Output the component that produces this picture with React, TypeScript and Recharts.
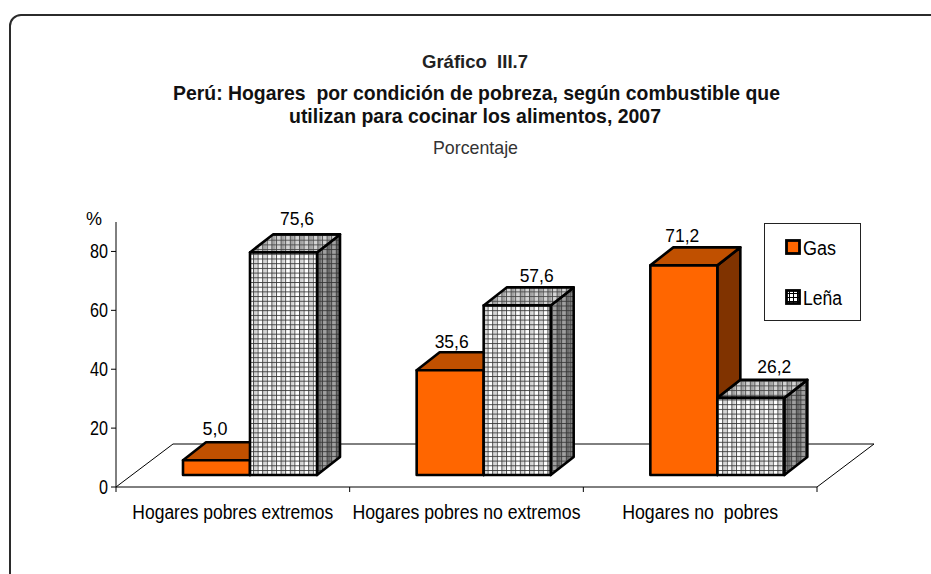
import { BarChart, Bar, XAxis, YAxis, Legend, LabelList, usePlotArea } from 'recharts';

const categories = ['Hogares pobres extremos', 'Hogares pobres no extremos', 'Hogares no  pobres'];
const gasValues = [5.0, 35.6, 71.2];
const lenaValues = [75.6, 57.6, 26.2];
const yTicks = [0, 20, 40, 60, 80];

const data = categories.map((name, i) => ({ name, gas: gasValues[i], lena: lenaValues[i] }));

const FONT = '"Liberation Sans", Arial, sans-serif';
// how far the bars sit into the floor, and how deep each bar is
const SHIFT_X = 17;
const SHIFT_Y = 12;
const DEPTH_X = 23;
const DEPTH_Y = 18;

const labelWidths: Record<string, number> = {
    'Hogares pobres extremos': 201,
    'Hogares pobres no extremos': 228,
    'Hogares no  pobres': 156,
};

// the labels were placed by hand in the original, so each one has its own nudge
const gasLabelNudge = [[-12, -3], [-9, 0], [-12, -1]];
const lenaLabelNudge = [[3, -5], [9, -1], [13, -3]];

function FitText({ x, y, width, size, anchor = 'middle', bold = false, color = '#000', children }: any) {
    return (
        <text
            x={x}
            y={y}
            textLength={width}
            lengthAdjust="spacingAndGlyphs"
            textAnchor={anchor}
            fontFamily={FONT}
            fontSize={size}
            fontWeight={bold ? 700 : 400}
            fill={color}
            style={{ whiteSpace: 'pre' }}
        >
            {children}
        </text>
    );
}

function Floor() {
    const plot = usePlotArea();
    if (!plot) return null;
    const left = plot.x;
    const right = plot.x + plot.width;
    const bottom = plot.y + plot.height;
    const dx = 57;
    const dy = 43;
    return (
        <path
            d={`M${left} ${bottom}L${left + dx} ${bottom - dy}L${right + dx} ${bottom - dy}L${right} ${bottom}`}
            fill="none"
            stroke="#000"
            strokeWidth={1}
        />
    );
}

function bar3d(front: string, top: string, side: string) {
    return (props: any) => {
        const x = props.x + SHIFT_X;
        const y = props.y - SHIFT_Y;
        const w = props.width;
        const h = props.height;
        return (
            <g stroke="#000" strokeWidth={2.6} strokeLinejoin="round">
                <path
                    d={`M${x + w} ${y}L${x + w + DEPTH_X} ${y - DEPTH_Y}L${x + w + DEPTH_X} ${y + h - DEPTH_Y}L${x + w} ${y + h}Z`}
                    fill={side}
                />
                <path
                    d={`M${x} ${y}L${x + DEPTH_X} ${y - DEPTH_Y}L${x + w + DEPTH_X} ${y - DEPTH_Y}L${x + w} ${y}Z`}
                    fill={top}
                />
                <rect x={x} y={y} width={w} height={h} fill={front} />
            </g>
        );
    };
}

function valueLabel(nudge: number[][]) {
    return (props: any) => {
        const { x, y, width, value, index } = props;
        const text = value.toFixed(1).replace('.', ',');
        return (
            <FitText
                x={x + width / 2 + SHIFT_X + DEPTH_X / 2 - 1 + nudge[index][0]}
                y={y - SHIFT_Y - DEPTH_Y - 4 + nudge[index][1]}
                width={text.length === 3 ? 25 : 34}
                size={19}
            >
                {text}
            </FitText>
        );
    };
}

function CategoryTick(props: any) {
    const { x, y, payload } = props;
    const band = 701 / 3;
    return (
        <g>
            <line x1={x + band / 2} y1={y - 8} x2={x + band / 2} y2={y - 3} stroke="#000" />
            {payload.index === 0 && <line x1={x - band / 2} y1={y - 8} x2={x - band / 2} y2={y - 3} stroke="#000" />}
            <FitText x={x} y={y + 24} width={labelWidths[payload.value]} size={19.5}>
                {payload.value}
            </FitText>
        </g>
    );
}

function ValueTick(props: any) {
    const { x, y, payload } = props;
    return (
        <FitText x={x - 1} y={y + 7} width={payload.value === 0 ? 9 : 18} size={19.5} anchor="end">
            {payload.value}
        </FitText>
    );
}

function GridPattern({ id, base, strip, line }: { id: string; base: string; strip: string; line: string }) {
    return (
        <pattern id={id} width={9.2} height={4.7} patternUnits="userSpaceOnUse">
            <rect width={9.2} height={4.7} fill={base} />
            <rect x={5.1} width={3.6} height={4.7} fill={strip} />
            <path d="M0.5 0V4.7M5.1 0V4.7M0 0.5H9.2" stroke={line} strokeWidth={0.85} fill="none" />
        </pattern>
    );
}

function Swatch({ fill }: { fill: string }) {
    return (
        <svg width={16} height={16} style={{ display: 'block' }}>
            <defs>
                <pattern id="legendGrid" width={4} height={4} patternUnits="userSpaceOnUse">
                    <rect width={4} height={4} fill="#fff" />
                    <path d="M0 0.5H4M0.5 0V4" stroke="#000" strokeWidth={1} />
                </pattern>
            </defs>
            <rect x={1.5} y={1.5} width={13} height={13} fill={fill} stroke="#000" strokeWidth={2.8} />
        </svg>
    );
}

function LegendBox() {
    const rows = [
        { label: 'Gas', fill: '#ff6600', top: 15, width: 33 },
        { label: 'Leña', fill: 'url(#legendGrid)', top: 65, width: 39 },
    ];
    return (
        <div style={{ position: 'relative', width: 97, height: 98, border: '1px solid #222', background: '#fff', boxSizing: 'border-box' }}>
            {rows.map((r) => (
                <div key={r.label} style={{ position: 'absolute', left: 20, top: r.top }}>
                    <Swatch fill={r.fill} />
                    <svg width={50} height={26} style={{ position: 'absolute', left: 18, top: -3 }}>
                        <FitText x={0} y={19} width={r.width} size={19.5} anchor="start">
                            {r.label}
                        </FitText>
                    </svg>
                </div>
            ))}
        </div>
    );
}

export default function App() {
    return (
        <div style={{ position: 'absolute', left: 0, top: 0, width: 931, height: 574, overflow: 'hidden', background: '#fff' }}>
            {/* frame runs off the right and bottom of the picture */}
            <div
                style={{
                    position: 'absolute',
                    left: 9,
                    top: 14,
                    width: 1000,
                    height: 572,
                    border: '2.5px solid #2b2b2b',
                    borderRadius: 12,
                    boxSizing: 'border-box',
                }}
            />
            <svg width={931} height={574} style={{ position: 'absolute', left: 0, top: 0 }}>
                <FitText x={475} y={68} width={106} size={18.5} bold color="#222">Gráfico  III.7</FitText>
                <FitText x={476.5} y={100} width={607} size={20.5} bold color="#111">Perú: Hogares  por condición de pobreza, según combustible que</FitText>
                <FitText x={475} y={123} width={372} size={20.5} bold color="#111">utilizan para cocinar los alimentos, 2007</FitText>
                <FitText x={475.5} y={154} width={85} size={18.5} color="#333">Porcentaje</FitText>
                <FitText x={94} y={225} width={16} size={18.5}>%</FitText>
            </svg>
            <div style={{ position: 'absolute', left: 0, top: 0 }}>
                {/* bottom margin is negative because the Legend reserves its own height there */}
                <BarChart
                    width={931}
                    height={574}
                    data={data}
                    margin={{ left: 0, right: 114, top: 222, bottom: -41 }}
                    barSize={67}
                    barGap={0}
                >
                    <defs>
                        <GridPattern id="gridFront" base="#fff" strip="#d4d4d4" line="#333" />
                        <GridPattern id="gridTop" base="#d4d4d4" strip="#a4a4a4" line="#444" />
                        <GridPattern id="gridSide" base="#a0a0a0" strip="#6c6c6c" line="#333" />
                    </defs>
                    <Floor />
                    <XAxis
                        dataKey="name"
                        height={30}
                        axisLine={{ stroke: '#000' }}
                        tickLine={false}
                        tick={<CategoryTick />}
                        interval={0}
                    />
                    <YAxis
                        domain={[0, 90]}
                        ticks={yTicks}
                        width={116}
                        axisLine={{ stroke: '#000' }}
                        tickLine={{ stroke: '#000' }}
                        tickSize={5}
                        tick={<ValueTick />}
                    />
                    <Legend
                        content={<LegendBox />}
                        wrapperStyle={{ position: 'absolute', left: 764, top: 223, width: 97, height: 98, bottom: 'auto' }}
                    />
                    <Bar dataKey="gas" isAnimationActive={false} shape={bar3d('#ff6600', '#c05000', '#803300')}>
                        <LabelList dataKey="gas" content={valueLabel(gasLabelNudge)} />
                    </Bar>
                    <Bar dataKey="lena" isAnimationActive={false} shape={bar3d('url(#gridFront)', 'url(#gridTop)', 'url(#gridSide)')}>
                        <LabelList dataKey="lena" content={valueLabel(lenaLabelNudge)} />
                    </Bar>
                </BarChart>
            </div>
        </div>
    );
}
